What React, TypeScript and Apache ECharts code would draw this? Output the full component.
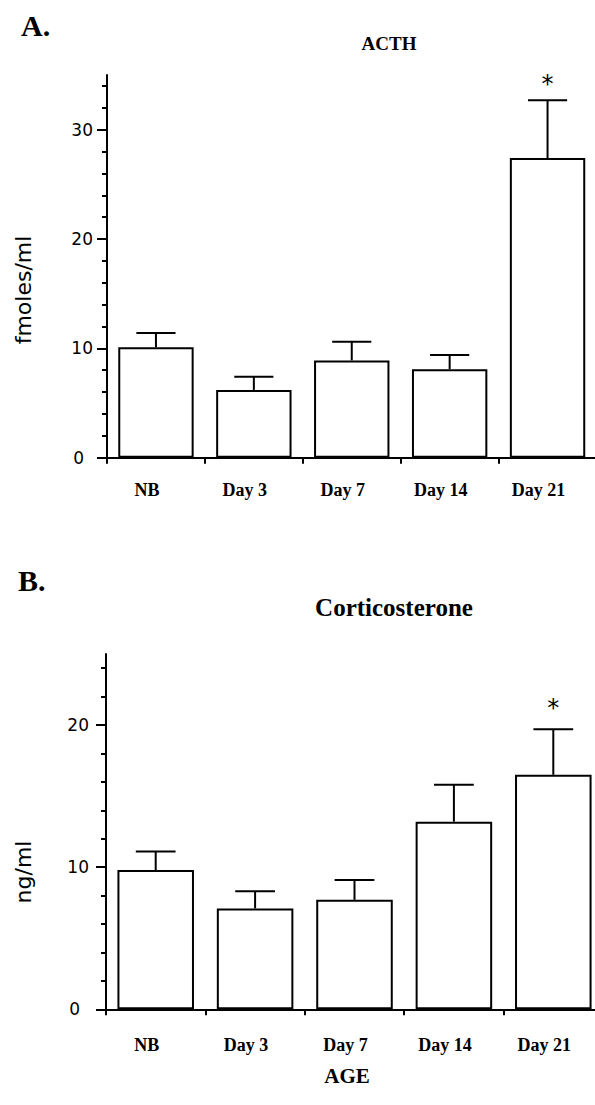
import React, { useEffect, useRef } from 'react';
import * as echarts from 'echarts';

const categories = ['NB', 'Day 3', 'Day 7', 'Day 14', 'Day 21'];

// Panel A: ACTH (fmoles/ml)
const acthMean = [10.1, 6.2, 8.9, 8.1, 27.4];
const acthSem = [1.3, 1.2, 1.7, 1.3, 5.3];
const acthSig = [0, 0, 0, 0, 1];
const acthMax = 35;
const acthMajorTicks = [0, 10, 20, 30];
const acthMinorTicks = [2, 4, 6, 8, 12, 14, 16, 18, 22, 24, 26, 28, 32, 34];

// Panel B: Corticosterone (ng/ml)
const cortMean = [9.8, 7.1, 7.7, 13.2, 16.5];
const cortSem = [1.3, 1.2, 1.4, 2.6, 3.2];
const cortSig = [0, 0, 0, 0, 1];
const cortMax = 25;
const cortMajorTicks = [0, 10, 20];
const cortMinorTicks = [2, 4, 6, 8, 12, 14, 16, 18, 22, 24];

const SERIF = 'Liberation Serif';
const SANS = 'DejaVu Sans';

function errRows(mean: number[], sem: number[], sig: number[]) {
  return mean.map((m, i) => [i, m, m + sem[i], sig[i]]);
}

function makeErrSeries(idx: number, rows: number[][], starOffset: number) {
  return {
    type: 'custom',
    xAxisIndex: idx,
    yAxisIndex: idx * 2,
    encode: { x: 0, y: 2 },
    data: rows,
    z: 5,
    renderItem: (params: any, api: any) => {
      const i = api.value(0);
      const base = api.coord([i, api.value(1)]);
      const top = api.coord([i, api.value(2)]);
      const half = api.size([1, 0])[0] * 0.2;
      const st = { stroke: '#000', lineWidth: 2 };
      const children: any[] = [
        { type: 'line', shape: { x1: base[0], y1: base[1], x2: top[0], y2: top[1] }, style: st },
        { type: 'line', shape: { x1: top[0] - half, y1: top[1], x2: top[0] + half, y2: top[1] }, style: st },
      ];
      if (api.value(3)) {
        children.push({
          type: 'text',
          x: top[0],
          y: top[1] - starOffset,
          style: { text: '*', fill: '#000', font: `24px "${SANS}"`, align: 'center', verticalAlign: 'middle' },
        });
      }
      return { type: 'group', children };
    },
  };
}

function xAxisFor(idx: number, margin: number) {
  return {
    gridIndex: idx,
    type: 'category',
    data: categories,
    boundaryGap: true,
    axisLine: { lineStyle: { color: '#000', width: 2 } },
    axisTick: { show: true, interval: 0, length: 6, lineStyle: { color: '#000', width: 2 } },
    axisLabel: {
      interval: 0,
      margin,
      color: '#000',
      fontFamily: SERIF,
      fontWeight: 'bold',
      fontSize: 18,
      padding: [0, 18, 0, 0],
    },
    splitLine: { show: false },
  };
}

function yAxesFor(idx: number, max: number, major: number[], minor: number[], margin: number) {
  return [
    {
      gridIndex: idx,
      type: 'value',
      position: 'left',
      min: 0,
      max,
      axisLine: { show: true, lineStyle: { color: '#000', width: 2 } },
      axisTick: { show: true, length: 10, customValues: major, lineStyle: { color: '#000', width: 2 } },
      axisLabel: {
        customValues: major,
        margin,
        color: '#000',
        fontFamily: SANS,
        fontSize: 17,
        formatter: (v: number) => (v === 0 ? '{z|0}' : String(v)),
        rich: { z: { fontFamily: SANS, fontSize: 17, color: '#000', padding: [0, 9, 0, 0] } },
      },
      splitLine: { show: false },
    },
    {
      gridIndex: idx,
      type: 'value',
      position: 'left',
      offset: 0,
      min: 0,
      max,
      axisLine: { show: false },
      axisTick: { show: true, length: 5, customValues: minor, lineStyle: { color: '#000', width: 2 } },
      axisLabel: { show: false },
      splitLine: { show: false },
    },
  ];
}

function barSeries(idx: number, data: number[]) {
  return {
    type: 'bar',
    xAxisIndex: idx,
    yAxisIndex: idx * 2,
    data,
    barWidth: '77%',
    itemStyle: { color: '#fff', borderColor: '#000', borderWidth: 2 },
    z: 3,
  };
}

export default function App() {
  const ref = useRef<HTMLDivElement>(null);
  useEffect(() => {
    if (!ref.current) return;
    const chart = echarts.init(ref.current, undefined, { renderer: 'svg' });
    const option: any = {
      animation: false,
      backgroundColor: '#fff',
      grid: [
        { left: 107, right: -1.5, top: 75, height: 382.7, outerBoundsMode: 'none' },
        { left: 106, right: -8, top: 654, height: 355.3, outerBoundsMode: 'none' },
      ],
      xAxis: [xAxisFor(0, 23), xAxisFor(1, 27)],
      yAxis: [
        ...yAxesFor(0, acthMax, acthMajorTicks, acthMinorTicks, 14),
        ...yAxesFor(1, cortMax, cortMajorTicks, cortMinorTicks, 17),
      ],
      series: [
        barSeries(0, acthMean),
        makeErrSeries(0, errRows(acthMean, acthSem, acthSig), 16),
        barSeries(1, cortMean),
        makeErrSeries(1, errRows(cortMean, cortSem, cortSig), 21),
      ],
      graphic: [
        { type: 'text', left: 21, top: 10, style: { text: 'A.', fill: '#000', font: `bold 30px "${SERIF}"` } },
        { type: 'text', left: 18, top: 565, style: { text: 'B.', fill: '#000', font: `bold 30px "${SERIF}"` } },
        { type: 'text', x: 389, y: 43, style: { text: 'ACTH', fill: '#000', font: `bold 19px "${SERIF}"`, align: 'center', verticalAlign: 'middle' } },
        { type: 'text', x: 394, y: 607, style: { text: 'Corticosterone', fill: '#000', font: `bold 25px "${SERIF}"`, align: 'center', verticalAlign: 'middle' } },
        { type: 'text', x: 23, y: 290, rotation: Math.PI / 2, style: { text: 'fmoles/ml', fill: '#000', font: `22px "${SANS}"`, align: 'center', verticalAlign: 'middle' } },
        { type: 'text', x: 23, y: 872, rotation: Math.PI / 2, style: { text: 'ng/ml', fill: '#000', font: `22px "${SANS}"`, align: 'center', verticalAlign: 'middle' } },
        { type: 'text', x: 347, y: 1076, style: { text: 'AGE', fill: '#000', font: `bold 21px "${SERIF}"`, align: 'center', verticalAlign: 'middle' } },
      ],
    };
    chart.setOption(option);
    return () => chart.dispose();
  }, []);
  return <div ref={ref} style={{ position: 'absolute', left: 0, top: 0, width: 595, height: 1105 }} />;
}
